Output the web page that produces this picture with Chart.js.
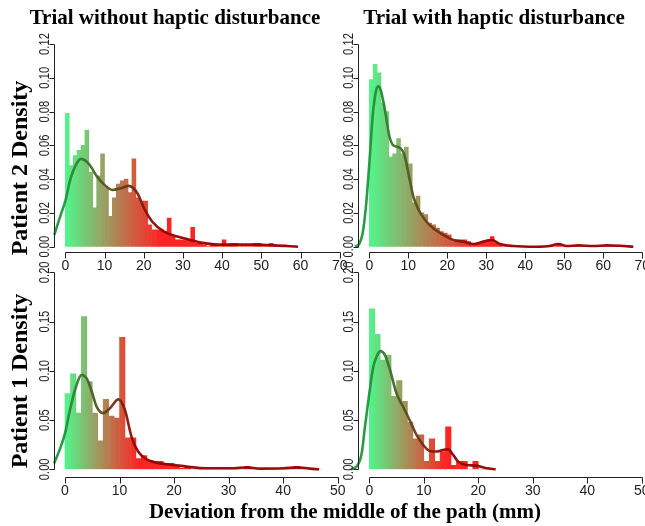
<!DOCTYPE html>
<html><head><meta charset="utf-8">
<script src="https://cdn.jsdelivr.net/npm/chart.js@4.4.0/dist/chart.umd.min.js"></script>
<style>
html,body{margin:0;padding:0;background:#fff;}
#wrap{position:relative;width:645px;height:526px;overflow:hidden;background:#fff;}
canvas{position:absolute;left:0;top:0;}
.t{position:absolute;font-family:"Liberation Serif","Times New Roman",serif;font-weight:bold;color:#000;white-space:nowrap;line-height:1;transform:translate(-50%,-50%);}
.r{transform:translate(-50%,-50%) rotate(-90deg);}
</style></head><body>
<div id="wrap">
<canvas id="c1" width="645" height="526"></canvas>
<canvas id="c2" width="645" height="526"></canvas>
<canvas id="c3" width="645" height="526"></canvas>
<canvas id="c4" width="645" height="526"></canvas>
<div class="t" style="left:175px;top:17px;font-size:21px;">Trial without haptic disturbance</div>
<div class="t" style="left:494px;top:17px;font-size:21px;">Trial with haptic disturbance</div>
<div class="t r" style="left:19px;top:168px;font-size:24px;">Patient 2 Density</div>
<div class="t r" style="left:19px;top:381px;font-size:24px;">Patient 1 Density</div>
<div class="t" style="left:345px;top:511px;font-size:21px;">Deviation from the middle of the path (mm)</div>
</div>
<script>
// ---------- DATA (histogram densities per 1 mm bin, starting at 0 mm) ----------
const p2WithoutBins = [0.079,0.048,0.054,0.057,0.060,0.069,0.044,0.023,0.042,0.055,
  0.035,0.018,0.029,0.037,0.039,0.040,0.032,0.052,0.029,0.027,
  0.027,0.013,0.010,0.010,0.010,0.009,0.017,0.006,0.004,0.004,
  0.004,0.004,0.0115,0.002,0.002,0.001,0,0.002,0.001,0,
  0.004,0.001,0.002,0.002,0,0,0,0,0.002,0.002,
  0,0,0.002,0,0,0,0,0,0];
const p2WithBins = [0.099,0.108,0.103,0.085,0.080,0.053,0.055,0.064,0.055,0.059,
  0.049,0.026,0.030,0.020,0.019,0.014,0.013,0.011,0.009,0.008,
  0.007,0.003,0.004,0.004,0.004,0.003,0.002,0.002,0.002,0.003,
  0.004,0.006,0.002,0.001,0,0,0,0,0,0,
  0,0,0,0,0,0,0,0,0.002,0,
  0,0,0,0,0,0,0,0,0,0,0,0,0,0,0,0,0];
const p1WithoutBins = [0.077,0.097,0.057,0.155,0.089,0.057,0.029,0.071,0.054,0.052,
  0.134,0.032,0.032,0.011,0.014,0.009,0.008,0.008,0.006,0.006,
  0.003,0.001,0.003,0,0,0,0,0,0,0,
  0,0,0,0.003,0,0,0,0,0,0,
  0,0,0.003,0,0,0,0];
const p1WithBins = [0.163,0.137,0.111,0.116,0.074,0.090,0.069,0.048,0.031,0.035,
  0.008,0.031,0.008,0.018,0.043,0.004,0.008,0.008,0,0.008,0,0,0];

// ---------- DATA (density curves) ----------
const p2WithoutCurveX = [-2.8,-1.3,0,1.3,2.6,4.0,6,8.1,10,12,14.1,16.2,18.4,20.1,22.2,25.2,28.6,32,34.6,38,43.2,48.3,53.4,59.4];
const p2WithoutCurveY = [0.007,0.018,0.027,0.040,0.048,0.052,0.049,0.0415,0.0366,0.0336,0.0346,0.036,0.0316,0.0227,0.0148,0.0089,0.006,0.004,0.0024,0.0014,0.0012,0.0012,0.0008,0.0];
const p2WithCurveX = [-3.7,-2.6,-1.7,-0.85,0,0.85,1.7,2.3,2.9,4.0,5.1,6.15,7.4,8.9,10.2,11.3,12.6,14.3,16.4,19,21.5,24.1,26.7,29.2,31.4,33.5,36.9,42.9,46.3,48.5,50.6,53.6,57.4,60.8,64.3,67.7];
const p2WithCurveY = [0,0.0016,0.008,0.024,0.049,0.077,0.092,0.095,0.093,0.081,0.066,0.060,0.059,0.055,0.0415,0.0297,0.022,0.0158,0.0109,0.007,0.004,0.003,0.0016,0.003,0.004,0.0016,0.0004,0,0.0004,0.0016,0.0004,0.0008,0.0004,0.0008,0.0006,0];
const p1WithoutCurveX = [-2.0,-0.9,0,0.9,1.8,3.06,4.0,4.9,5.8,7.0,8.25,9.8,11,12.2,13.4,15,17.4,19.9,22.3,26,30.9,33.3,35.8,40,42.5,44.9,46.6];
const p1WithoutCurveY = [0.006,0.021,0.0365,0.060,0.080,0.0958,0.092,0.079,0.0636,0.057,0.062,0.071,0.060,0.033,0.018,0.010,0.006,0.0044,0.0027,0.001,0.001,0.002,0.0007,0.001,0.002,0.0007,0];
const p1WithCurveX = [-3.4,-2.3,-1.4,-0.8,0,0.73,1.46,2.07,2.87,3.8,5.0,6.2,7.4,8.66,9.9,11.1,12.3,13.5,14.45,15.4,16.3,17.8,19.6,21.5,23.2];
const p1WithCurveY = [0,0.003,0.016,0.043,0.077,0.104,0.116,0.120,0.116,0.101,0.077,0.0636,0.050,0.035,0.0247,0.0186,0.018,0.0196,0.0203,0.0146,0.0078,0.0044,0.0037,0.001,0];

// ---------- TICKS ----------
const xTicksTop = [0,10,20,30,40,50,60,70];
const xTicksBottom = [0,10,20,30,40,50];
const yTicksTop = [0,0.02,0.04,0.06,0.08,0.10,0.12];
const yTickLabelsTop = ['0.00','0.02','0.04','0.06','0.08','0.10','0.12'];
const yTicksBottom = [0,0.05,0.10,0.15,0.20];
const yTickLabelsBottom = ['0.00','0.05','0.10','0.15','0.20'];

// ---------- drawing ----------
const rAxes = {
  id: 'rAxes',
  afterDatasetsDraw(chart, args, o) {
    const {ctx} = chart; const xs = chart.scales.x, ys = chart.scales.y;
    ctx.save();
    ctx.strokeStyle = '#222'; ctx.fillStyle = '#222'; ctx.lineWidth = 1;
    const ax = Math.round(o.yAxisPx) + 0.5;
    const yb = ys.getPixelForValue(o.yTicks[0]);
    const yt = ys.getPixelForValue(o.yTicks[o.yTicks.length - 1]);
    ctx.beginPath();
    ctx.moveTo(ax, Math.round(yb) + 0.5); ctx.lineTo(ax, Math.round(yt) + 0.5);
    o.yTicks.forEach(v => { const py = Math.round(ys.getPixelForValue(v)) + 0.5; ctx.moveTo(ax, py); ctx.lineTo(ax - 5, py); });
    const ay = Math.round(yb + o.xGap) + 0.5;
    const x0 = xs.getPixelForValue(o.xTicks[0]), x1 = xs.getPixelForValue(o.xTicks[o.xTicks.length - 1]);
    ctx.moveTo(Math.round(x0) + 0.5, ay); ctx.lineTo(Math.round(x1) + 0.5, ay);
    o.xTicks.forEach(v => { const px = Math.round(xs.getPixelForValue(v)) + 0.5; ctx.moveTo(px, ay); ctx.lineTo(px, ay + 6); });
    ctx.stroke();
    ctx.font = '14px "Liberation Sans", Arial, sans-serif';
    ctx.textAlign = 'center'; ctx.textBaseline = 'middle';
    o.xTicks.forEach(v => { ctx.fillText(String(v), xs.getPixelForValue(v), ay + 13.5); });
    o.yTicks.forEach((v, i) => {
      ctx.save();
      ctx.translate(ax - 6, ys.getPixelForValue(v));
      ctx.rotate(-Math.PI / 2);
      ctx.scale(0.8, 1);
      ctx.textBaseline = 'alphabetic';
      ctx.fillText(o.yLabels[i], 0, 0);
      ctx.restore();
    });
    ctx.restore();
  }
};

function makeGrad(chart, end, c0, c1) {
  const {chartArea, scales} = chart;
  if (!chartArea) return c0;
  const a = scales.x.getPixelForValue(0), b = scales.x.getPixelForValue(end);
  const g = chart.ctx.createLinearGradient(a, 0, b, 0);
  g.addColorStop(0, c0); g.addColorStop(1, c1);
  return g;
}

function panel(id, bins, cx, cy, L) {
  const barData = bins.map((v, i) => ({x: i + 0.5, y: v}));
  const lineData = cx.map((v, i) => ({x: v, y: cy[i]}));
  const left = L.areaLeft, right = L.areaRight;
  return new Chart(document.getElementById(id), {
    type: 'bar',
    data: { datasets: [
      { type: 'line', data: lineData, order: 1, borderWidth: 2.6, pointRadius: 0, tension: 0.4,
        cubicInterpolationMode: 'monotone', clip: false,
        borderColor: c => makeGrad(c.chart, L.redEnd, 'rgba(30,150,60,0.95)', 'rgba(150,0,0,0.95)') },
      { type: 'bar', data: barData, order: 2, barPercentage: 1, categoryPercentage: 1, borderWidth: 0,
        backgroundColor: c => makeGrad(c.chart, L.redEnd, 'rgb(82,245,140)', 'rgb(255,36,36)') }
    ]},
    options: {
      responsive: false, animation: false, devicePixelRatio: 1, events: [],
      layout: { padding: { left: left, right: 645 - right, top: L.top, bottom: 526 - L.bottom } },
      plugins: { legend: {display: false}, tooltip: {enabled: false}, title: {display: false},
        rAxes: { yAxisPx: L.yAxisPx, xGap: L.xGap, xTicks: L.xTicks, yTicks: L.yTicks, yLabels: L.yLabels } },
      scales: {
        x: { type: 'linear', display: false, offset: false,
             min: (left - L.zeroPx) / L.unitPx, max: (right - L.zeroPx) / L.unitPx },
        y: { type: 'linear', display: false, min: 0, max: L.yMax }
      }
    },
    plugins: [rAxes]
  });
}

panel('c1', p2WithoutBins, p2WithoutCurveX, p2WithoutCurveY,
  {areaLeft: 44, areaRight: 341, top: 44, bottom: 246.7, zeroPx: 65.3, unitPx: 3.92, yMax: 0.12,
   yAxisPx: 54, xGap: 5.6, xTicks: xTicksTop, yTicks: yTicksTop, yLabels: yTickLabelsTop, redEnd: 24});
panel('c2', p2WithBins, p2WithCurveX, p2WithCurveY,
  {areaLeft: 350, areaRight: 643, top: 44, bottom: 246.7, zeroPx: 369.3, unitPx: 3.9, yMax: 0.12,
   yAxisPx: 358.3, xGap: 5.6, xTicks: xTicksTop, yTicks: yTicksTop, yLabels: yTickLabelsTop, redEnd: 27});
panel('c3', p1WithoutBins, p1WithoutCurveX, p1WithoutCurveY,
  {areaLeft: 44, areaRight: 341, top: 272.3, bottom: 469.3, zeroPx: 65, unitPx: 5.454, yMax: 0.20,
   yAxisPx: 54, xGap: 7.4, xTicks: xTicksBottom, yTicks: yTicksBottom, yLabels: yTickLabelsBottom, redEnd: 13.5});
panel('c4', p1WithBins, p1WithCurveX, p1WithCurveY,
  {areaLeft: 350, areaRight: 643, top: 272.3, bottom: 469.3, zeroPx: 369.3, unitPx: 5.448, yMax: 0.20,
   yAxisPx: 358.3, xGap: 7.4, xTicks: xTicksBottom, yTicks: yTicksBottom, yLabels: yTickLabelsBottom, redEnd: 14});
</script>
</body></html>
